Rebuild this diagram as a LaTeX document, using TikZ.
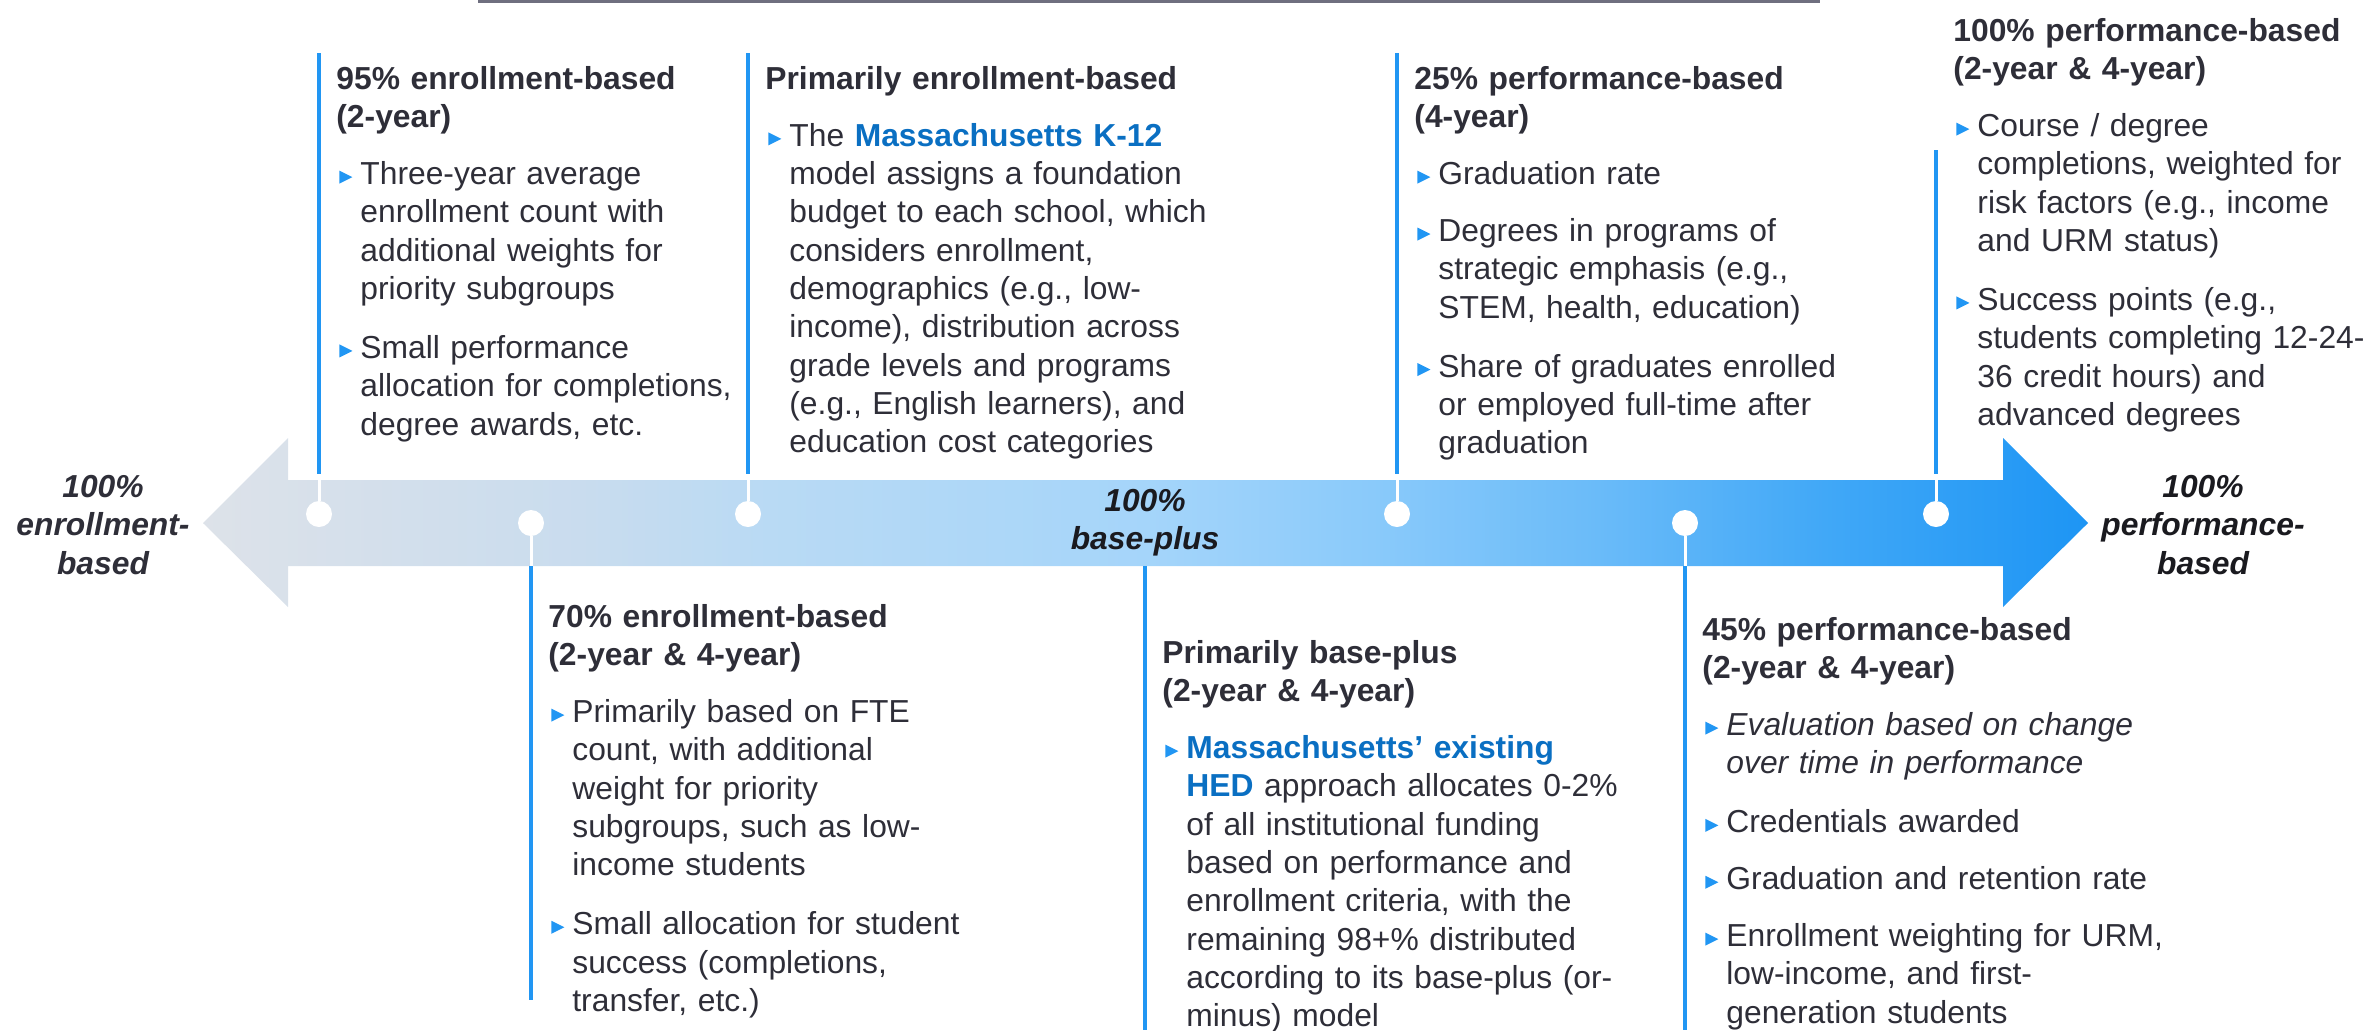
\documentclass[tikz,border=0pt]{standalone}
\usepackage{fontspec}
\setmainfont{Liberation Sans}
\usepackage{xcolor}

\definecolor{ink}{HTML}{2E2E38}
\definecolor{deep}{HTML}{1A1A1F}
\definecolor{accent}{HTML}{2196F3}
\definecolor{hl}{HTML}{0A6FC2}
\definecolor{rule}{HTML}{6F6F7F}
\definecolor{rail0}{HTML}{DDE2E9}
\definecolor{rail1}{HTML}{C9DCEE}
\definecolor{rail2}{HTML}{B9DAF4}
\definecolor{rail3}{HTML}{A5D5FA}
\definecolor{rail4}{HTML}{8ACAFA}
\definecolor{rail5}{HTML}{6ABBF9}
\definecolor{rail6}{HTML}{41A8F7}
\definecolor{rail7}{HTML}{1D95F4}

% grey on the left, blue on the right
\pgfdeclarehorizontalshading{railshade}{100bp}{color(0bp)=(rail0); color(25bp)=(rail0);
  color(35bp)=(rail1); color(40bp)=(rail2); color(50bp)=(rail3); color(56bp)=(rail4);
  color(62bp)=(rail5); color(68bp)=(rail6); color(75bp)=(rail7); color(100bp)=(rail7)}

\newcommand{\nl}{\hfil\break}
\newcommand{\bmark}{\begin{tikzpicture}[x=1pt,y=1pt,baseline=0pt]
    \fill[accent] (0,0.5) -- (6.5,3.75) -- (0,7) -- cycle;
  \end{tikzpicture}}
\newcommand{\btitle}[1]{\noindent\textbf{#1}}
% one bullet: marker, then its lines stacked in a column
\newcommand{\bitem}[2][9.3pt]{\par\vspace{#1}\noindent
  \makebox[12pt][l]{\hspace{1.5pt}\bmark}\begin{tabular}[t]{@{}l@{}}#2\end{tabular}}
\newcommand{\hi}[1]{\textcolor{hl}{\textbf{#1}}}

\begin{document}
\begin{tikzpicture}[x=0.5pt,y=-0.5pt]
    \tikzset{box/.style={anchor=north west, inner sep=0pt, text width=260pt, align=left,
                 font=\fontsize{15.9}{19.15}\selectfont, text=ink},
             endlabel/.style={align=center, inner sep=0pt,
                 font=\fontsize{15.9}{19.15}\selectfont\bfseries\itshape},
             vline/.style={draw=accent, line width=2pt},
             stem/.style={draw=white, line width=1.5pt},
             dot/.style={circle, fill=white, minimum size=13pt, inner sep=0pt}}
    \useasboundingbox (0,0) rectangle (2366,1030);

    % rule along the top edge
    \coordinate (r1) at (478,1);
    \coordinate (r2) at (1820,1);
    \draw[rule, line width=1.5pt] (r1) -- (r2);

    % the double arrow
    \shade[shading=railshade] (203,523) -- (288,438) -- (288,480) -- (2003,480) -- (2003,438)
        -- (2088,523) -- (2003,607) -- (2003,566) -- (288,566) -- (288,607) -- cycle;

    % markers above the arrow
    \node[dot] (d1) at (319,514) {};
    \node[dot] (d3) at (748,514) {};
    \node[dot] (d5) at (1397,514) {};
    \node[dot] (d7) at (1936,514) {};
    \coordinate (t1) at (319,53);   \coordinate (s1) at (319,474);
    \coordinate (t3) at (748,53);   \coordinate (s3) at (748,474);
    \coordinate (t5) at (1397,53);  \coordinate (s5) at (1397,474);
    \coordinate (t7) at (1936,150); \coordinate (s7) at (1936,474);
    \foreach \n in {1,3,5,7} {
        \draw[vline] (t\n) -- (s\n);
        \draw[stem] (s\n) -- (d\n.north);
    }

    % markers below the arrow
    \node[dot] (d2) at (531,523) {};
    \node[dot] (d6) at (1685,523) {};
    \coordinate (s2) at (531,566);  \coordinate (e2) at (531,1000);
    \coordinate (s4) at (1145,566); \coordinate (e4) at (1145,1030);
    \coordinate (s6) at (1685,566); \coordinate (e6) at (1685,1030);
    \draw[stem] (d2.south) -- (s2);
    \draw[stem] (d6.south) -- (s6);
    \draw[vline] (s2) -- (e2);
    \draw[vline] (s4) -- (e4);
    \draw[vline] (s6) -- (e6);

    % end and middle labels
    \node[endlabel, text=ink] (left) at (103,525) {100\%\\enrollment-\\based};
    \node[endlabel, text=deep] (mid) at (1145,523) {100\%\\base-plus};
    \node[endlabel, text=deep] (right) at (2203,525) {100\%\\performance-\\based};

    % boxes above
    \node[box] (b1) at (336,66) {\btitle{95\% enrollment-based\nl(2-year)}
        \bitem{Three-year average\\ enrollment count with\\ additional weights for\\ priority subgroups}
        \bitem{Small performance\\ allocation for completions,\\ degree awards, etc.}};
    \node[box] (b3) at (765,66) {\btitle{Primarily enrollment-based}
        \bitem{The \hi{Massachusetts K-12}\\ model assigns a foundation\\ budget to each school, which\\
            considers enrollment,\\ demographics (e.g., low-\\ income), distribution across\\
            grade levels and programs\\ (e.g., English learners), and\\ education cost categories}};
    \node[box] (b5) at (1414,66) {\btitle{25\% performance-based\nl(4-year)}
        \bitem{Graduation rate}
        \bitem{Degrees in programs of\\ strategic emphasis (e.g.,\\ STEM, health, education)}
        \bitem{Share of graduates enrolled\\ or employed full-time after\\ graduation}};
    \node[box] (b7) at (1953,18) {\btitle{100\% performance-based\nl(2-year \& 4-year)}
        \bitem{Course / degree\\ completions, weighted for\\ risk factors (e.g., income\\ and URM status)}
        \bitem{Success points (e.g.,\\ students completing 12-24-\\ 36 credit hours) and\\ advanced degrees}};

    % boxes below
    \node[box] (b2) at (548,604) {\btitle{70\% enrollment-based\nl(2-year \& 4-year)}
        \bitem{Primarily based on FTE\\ count, with additional\\ weight for priority\\
            subgroups, such as low-\\ income students}
        \bitem{Small allocation for student\\ success (completions,\\ transfer, etc.)}};
    \node[box] (b4) at (1162,640) {\btitle{Primarily base-plus\nl(2-year \& 4-year)}
        \bitem{\hi{Massachusetts’ existing}\\ \hi{HED} approach allocates 0-2\%\\
            of all institutional funding\\ based on performance and\\ enrollment criteria, with the\\
            remaining 98+\% distributed\\ according to its base-plus (or-\\ minus) model}};
    \node[box] (b6) at (1702,617) {\btitle{45\% performance-based\nl(2-year \& 4-year)}
        \bitem{\itshape Evaluation based on change\\ \itshape over time in performance}
        \bitem{Credentials awarded}
        \bitem{Graduation and retention rate}
        \bitem{Enrollment weighting for URM,\\ low-income, and first-\\ generation students}};
\end{tikzpicture}
\end{document}
